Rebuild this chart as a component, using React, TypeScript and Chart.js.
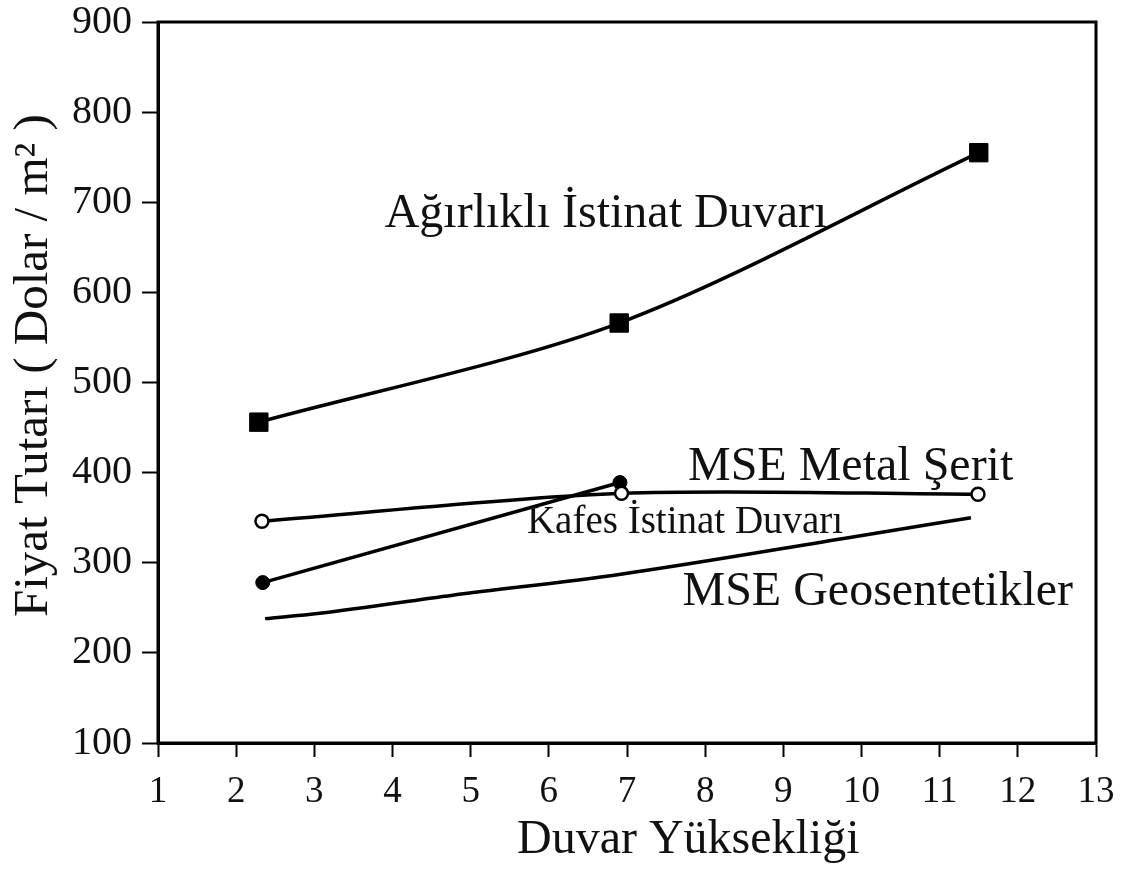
import React, { useEffect, useRef } from "react";
import { Chart, registerables } from "chart.js";

Chart.register(...registerables);

// ---- data ----
const agirlikliX = [2.29, 6.9, 11.5];
const agirlikliY = [456, 566, 755];

const metalX = [2.33, 6.93, 11.49];
const metalY = [346, 377, 376];

const kafesX = [2.34, 6.91];
const kafesY = [278, 389];

const geoX = [2.37, 3.07, 4.77, 6.9, 9.85, 11.4];
const geoY = [238, 244, 264, 287, 328, 350];

const xTickMin = 1;
const xTickMax = 13;
const yTickMin = 100;
const yTickMax = 900;

const seriesLabels = [
  "Ağırlıklı İstinat Duvarı",
  "MSE Metal Şerit",
  "Kafes İstinat Duvarı",
  "MSE Geosentetikler",
];
const labelX = [3.9, 7.78, 5.72, 7.71];
const labelY = [672, 392, 333, 253];
const labelSize = [48, 48, 39, 48];

const xTitle = "Duvar Yüksekliği";
const yTitle = "Fiyat Tutarı ( Dolar / m² )";

const FONT = "'Liberation Serif', 'Times New Roman', serif";
const INK = "#111";

const toPts = (xs: number[], ys: number[]) => xs.map((x, i) => ({ x, y: ys[i] }));

const annotationPlugin = {
  id: "annotations",
  afterDatasetsDraw(chart: any) {
    const { ctx, chartArea, scales } = chart;
    const xs = scales.x;
    const ys = scales.y;
    ctx.save();
    // frame
    ctx.strokeStyle = "#000";
    ctx.lineWidth = 3;
    ctx.strokeRect(chartArea.left, chartArea.top, chartArea.right - chartArea.left, chartArea.bottom - chartArea.top);
    // series labels
    ctx.fillStyle = INK;
    ctx.textAlign = "left";
    ctx.textBaseline = "alphabetic";
    seriesLabels.forEach((t, i) => {
      ctx.font = `${labelSize[i]}px ${FONT}`;
      ctx.fillText(t, xs.getPixelForValue(labelX[i]), ys.getPixelForValue(labelY[i]));
    });
    // axis titles
    ctx.font = `48px ${FONT}`;
    ctx.fillText(xTitle, 517, 853);
    ctx.translate(47, 617);
    ctx.rotate(-Math.PI / 2);
    ctx.font = `49px ${FONT}`;
    ctx.fillText(yTitle, 0, 0);
    ctx.restore();
  },
};

const whiteBg = {
  id: "whiteBg",
  beforeDraw(chart: any) {
    const { ctx, width, height } = chart;
    ctx.save();
    ctx.fillStyle = "#fff";
    ctx.fillRect(0, 0, width, height);
    ctx.restore();
  },
};

export default function App() {
  const ref = useRef<HTMLCanvasElement | null>(null);

  useEffect(() => {
    if (!ref.current) return;
    const chart = new Chart(ref.current, {
      type: "line",
      data: {
        datasets: [
          {
            label: seriesLabels[1],
            data: toPts(metalX, metalY),
            borderColor: "#000",
            borderWidth: 3.5,
            tension: 0.3,
            pointStyle: "circle",
            pointRadius: 6.5,
            pointBackgroundColor: "#fff",
            pointBorderColor: "#000",
            pointBorderWidth: 2.5,
          },
          {
            label: seriesLabels[2],
            data: toPts(kafesX, kafesY),
            borderColor: "#000",
            borderWidth: 3.5,
            tension: 0,
            pointStyle: "circle",
            pointRadius: 7,
            pointBackgroundColor: "#000",
            pointBorderColor: "#000",
            pointBorderWidth: 1,
          },
          {
            label: seriesLabels[0],
            data: toPts(agirlikliX, agirlikliY),
            borderColor: "#000",
            borderWidth: 3.5,
            tension: 0.3,
            pointStyle: "rect",
            pointRadius: 13,
            pointBackgroundColor: "#000",
            pointBorderColor: "#000",
            pointBorderWidth: 1,
          },
          {
            label: seriesLabels[3],
            data: toPts(geoX, geoY),
            borderColor: "#000",
            borderWidth: 3.5,
            cubicInterpolationMode: "monotone",
            pointRadius: 0,
          },
        ],
      },
      options: {
        animation: false,
        responsive: true,
        maintainAspectRatio: false,
        layout: { padding: { top: 22, right: 30, left: 0, bottom: 0 } },
        plugins: {
          legend: { display: false },
          tooltip: { enabled: false },
          title: { display: false },
        },
        scales: {
          x: {
            type: "linear",
            min: xTickMin,
            max: xTickMax,
            ticks: {
              stepSize: 1,
              color: INK,
              font: { family: FONT, size: 37, lineHeight: 1.32 },
              padding: 11,
              maxRotation: 0,
            },
            grid: {
              drawOnChartArea: false,
              drawTicks: true,
              tickLength: 14,
              tickColor: "#000",
              tickWidth: 2,
            },
            border: { display: true, color: "#000", width: 3 },
            afterFit: (s: any) => {
              s.height = 127;
            },
          },
          y: {
            type: "linear",
            min: yTickMin,
            max: yTickMax,
            ticks: {
              stepSize: 100,
              color: INK,
              font: { family: FONT, size: 40, lineHeight: 0.5 },
              padding: 10,
            },
            grid: {
              drawOnChartArea: false,
              drawTicks: true,
              tickLength: 16,
              tickColor: "#000",
              tickWidth: 2,
            },
            border: { display: true, color: "#000", width: 3 },
            afterFit: (s: any) => {
              s.width = 158;
            },
          },
        },
      },
      plugins: [whiteBg, annotationPlugin],
    });
    return () => chart.destroy();
  }, []);

  return (
    <div style={{ position: "fixed", left: 0, top: 0, width: 1126, height: 870, background: "#fff" }}>
      <canvas ref={ref} />
    </div>
  );
}
